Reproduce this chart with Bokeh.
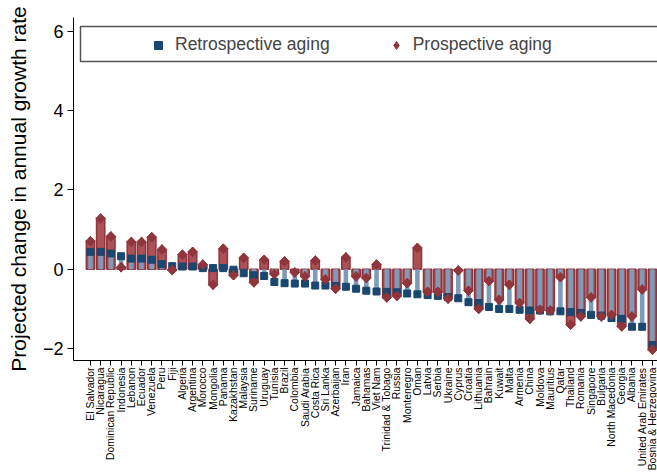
import math
from bokeh.plotting import figure
from bokeh.models import (Range1d, FixedTicker, Legend, LegendItem,
                          BoxAnnotation, ColumnDataSource)
from bokeh.embed import file_html
from bokeh.resources import INLINE

countries = [
    "El Salvador", "Nicaragua", "Dominican Republic", "Indonesia", "Lebanon",
    "Ecuador", "Venezuela", "Peru", "Fiji", "Algeria", "Argentina", "Morocco",
    "Mongolia", "Panama", "Kazakhstan", "Malaysia", "Suriname", "Uruguay",
    "Tunisia", "Brazil", "Colombia", "Saudi Arabia", "Costa Rica", "Sri Lanka",
    "Azerbaijan", "Iran", "Jamaica", "Bahamas", "Viet Nam", "Trinidad & Tobago",
    "Russia", "Montenegro", "Oman", "Latvia", "Serbia", "Ukraine", "Cyprus",
    "Croatia", "Lithuania", "Bahrain", "Kuwait", "Malta", "Armenia", "China",
    "Moldova", "Mauritius", "Qatar", "Thailand", "Romania", "Singapore",
    "Bulgaria", "North Macedonia", "Georgia", "Albania", "United Arab Emirates",
    "Bosnia & Herzegovina",
]

retrospective = [
    0.44, 0.44, 0.40, 0.33, 0.27, 0.27, 0.24, 0.13, 0.08, 0.07, 0.07, 0.03,
    0.03, 0.03, -0.01, -0.10, -0.15, -0.17, -0.32, -0.35, -0.36, -0.36, -0.41,
    -0.41, -0.42, -0.44, -0.49, -0.54, -0.56, -0.57, -0.58, -0.61, -0.63,
    -0.65, -0.67, -0.70, -0.73, -0.83, -0.85, -0.95, -1.00, -1.00, -1.02,
    -1.04, -1.04, -1.06, -1.06, -1.08, -1.10, -1.15, -1.17, -1.23, -1.25,
    -1.45, -1.45, -1.91,
]

prospective = [
    0.71, 1.28, 0.83, 0.05, 0.69, 0.69, 0.81, 0.50, -0.02, 0.37, 0.44, 0.12,
    -0.39, 0.52, -0.15, 0.29, -0.33, 0.24, -0.12, 0.20, -0.08, -0.18, 0.22,
    -0.26, -0.49, 0.30, -0.18, -0.22, 0.12, -0.71, -0.67, -0.35, 0.54, -0.57,
    -0.57, -0.74, -0.03, -0.54, -1.00, -0.30, -0.77, -0.39, -0.85, -1.25,
    -1.02, -1.04, -0.20, -1.40, -1.19, -0.71, -1.19, -1.15, -1.44, -1.19,
    -0.51, -2.03,
]

y_ticks = [-2, 0, 2, 4, 6]

positions = list(range(len(countries)))
src = ColumnDataSource(dict(x=positions, retro=retrospective, prosp=prospective))

NAVY = "#1a476f"
NAVY_LIGHT = "#7e9bb9"
MAROON = "#90353b"
MAROON_FILL = "#ad5158"
FONT = "Liberation Sans"

p = figure(width=657, height=474, output_backend="svg", toolbar_location=None,
           x_range=Range1d(-1.66, 55.5), y_range=Range1d(-2.3, 6.35),
           min_border_left=73, min_border_right=0, min_border_top=17,
           min_border_bottom=114)
p.outline_line_color = None
p.xgrid.visible = False
p.ygrid.visible = False
p.background_fill_color = "white"
p.border_fill_color = "white"

p.vbar(x="x", top="prosp", bottom=0, width=0.8, source=src,
       fill_color=MAROON_FILL, line_color=MAROON, line_width=1.6)
p.vbar(x="x", top="retro", bottom=0, width=0.45, source=src,
       fill_color=NAVY_LIGHT, line_color=None)
sq = p.scatter(x="x", y="retro", source=src, marker="square", size=7,
               fill_color=NAVY, line_color=NAVY)
# diamond marker (also used for the legend glyph)
dm = p.scatter(x="x", y="prosp", source=src, marker="diamond", size=9.5,
               fill_color=MAROON, line_color=MAROON)
# widen the diamonds: rotated square on top of the same points
p.scatter(x="x", y="prosp", source=src, marker="square",
          angle=math.pi / 4, size=6.8, fill_color=MAROON, line_color=MAROON)

# axes
p.xaxis.ticker = FixedTicker(ticks=positions)
p.xaxis.major_label_overrides = {i: c for i, c in enumerate(countries)}
p.xaxis.major_label_orientation = math.pi / 2
p.xaxis.major_label_text_font = FONT
p.xaxis.major_label_text_font_size = "10.4px"
p.xaxis.major_label_text_color = "black"
p.xaxis.major_label_standoff = 2
p.xaxis.major_tick_out = 5
p.xaxis.major_tick_in = 0
p.xaxis.minor_tick_out = 0
p.xaxis.minor_tick_in = 0
p.xaxis.axis_line_color = "black"
p.xaxis.major_tick_line_color = "black"

p.yaxis.ticker = FixedTicker(ticks=y_ticks)
p.yaxis.axis_label = "Projected change in annual growth rate"
p.yaxis.axis_label_text_font = FONT
p.yaxis.axis_label_text_font_size = "21px"
p.yaxis.axis_label_text_font_style = "normal"
p.yaxis.axis_label_text_color = "black"
p.yaxis.axis_label_standoff = 10
p.yaxis.major_label_text_font = FONT
p.yaxis.major_label_text_font_size = "18px"
p.yaxis.major_label_text_color = "black"
p.yaxis.major_label_standoff = 4
p.yaxis.major_tick_out = 6
p.yaxis.major_tick_in = 0
p.yaxis.minor_tick_out = 0
p.yaxis.minor_tick_in = 0
p.yaxis.axis_line_color = "black"
p.yaxis.major_tick_line_color = "black"

# legend box
box = BoxAnnotation(left=7, right=700, top=334, bottom=299,
                    left_units="screen", right_units="screen",
                    top_units="screen", bottom_units="screen",
                    fill_color="white", fill_alpha=1.0,
                    line_color="#555555", line_width=1.5, line_alpha=1.0)
p.add_layout(box)

legend = Legend(items=[LegendItem(label="Retrospective aging", renderers=[sq]),
                       LegendItem(label="Prospective aging", renderers=[dm])],
                location=(75, 305), orientation="horizontal", padding=0,
                spacing=56, label_standoff=7, glyph_width=20, glyph_height=20,
                label_text_font=FONT, label_text_font_size="17.5px",
                border_line_color=None, background_fill_alpha=0, margin=0)
p.add_layout(legend)

open("out.html", "w").write(file_html(p, INLINE))
